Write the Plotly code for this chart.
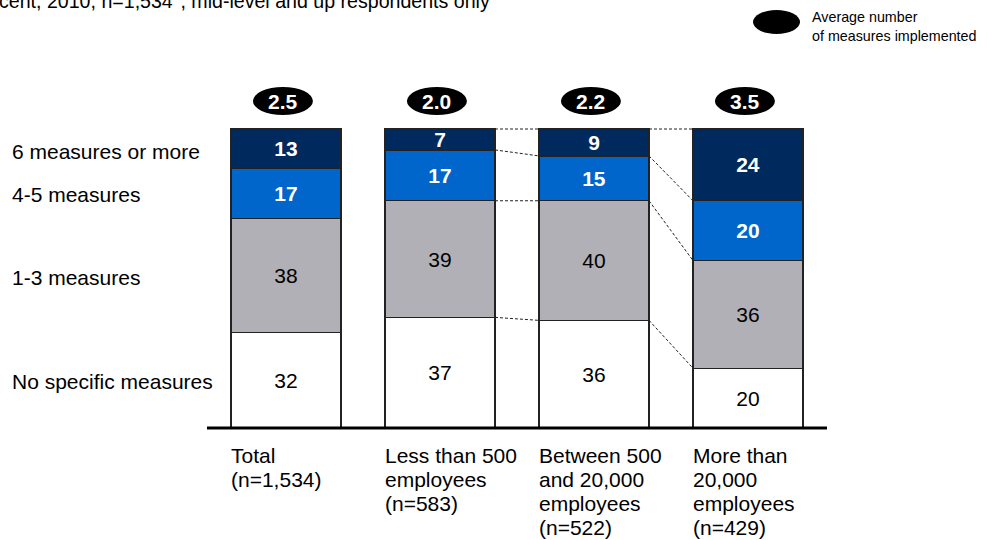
import plotly.graph_objects as go

category_lines = [["Total", "(n=1,534)"],
                  ["Less than 500", "employees", "(n=583)"],
                  ["Between 500", "and 20,000", "employees", "(n=522)"],
                  ["More than", "20,000", "employees", "(n=429)"]]
series_names = ["No specific measures", "1-3 measures", "4-5 measures", "6 measures or more"]
no_specific = [32, 37, 36, 20]
one_three = [38, 39, 40, 36]
four_five = [17, 17, 15, 20]
six_plus = [13, 7, 9, 24]
averages = ["2.5", "2.0", "2.2", "3.5"]

series_values = [no_specific, one_three, four_five, six_plus]
colors = ["#FFFFFF", "#B1B0B6", "#0066CC", "#002A5E"]
text_colors = ["#000000", "#000000", "#FFFFFF", "#FFFFFF"]
text_bold = [False, False, True, True]

FONT = "Liberation Sans, Arial, sans-serif"
W, H = 987, 540
px_per_unit = 2.99
base_px = 428
ymin = -(H - base_px) / px_per_unit
ymax = base_px / px_per_unit
spacing = 154.0
c0 = 286.0
xmin = -c0 / spacing
xmax = (W - c0) / spacing
bar_w = 110 / spacing

xs = list(range(len(category_lines)))
fig = go.Figure()
for vals, name, col, tc, b in zip(series_values, series_names, colors, text_colors, text_bold):
    fig.add_trace(go.Bar(
        x=xs, y=vals, name=name, width=bar_w,
        marker=dict(color=col, line=dict(color="#222222", width=1.3)),
        text=[f"<b>{v}</b>" if b else str(v) for v in vals],
        textposition="inside", insidetextanchor="middle", textangle=0,
        textfont=dict(color=tc, size=21, family=FONT),
        constraintext="none", showlegend=False, hoverinfo="skip",
    ))

fig.update_layout(
    barmode="stack", width=W, height=H,
    margin=dict(l=0, r=0, t=0, b=0),
    paper_bgcolor="white", plot_bgcolor="white",
    font=dict(family=FONT, size=21, color="#000000"),
    xaxis=dict(range=[xmin, xmax], visible=False, fixedrange=True),
    yaxis=dict(range=[ymin, ymax], visible=False, fixedrange=True),
)

# connector lines between bars 2-3 and 3-4
cums = []
for i in xs:
    c, acc = [], 0
    for s in series_values:
        acc += s[i]
        c.append(acc)
    cums.append(c)
for i in [1, 2]:
    for k in range(len(series_values)):
        fig.add_shape(type="line", x0=i + bar_w / 2, x1=i + 1 - bar_w / 2,
                      y0=cums[i][k], y1=cums[i + 1][k],
                      xref="x", yref="y", line=dict(color="#222222", width=1, dash="3px,2px"),
                      layer="below")

# baseline axis
fig.add_shape(type="line", x0=-0.513, x1=3.513, y0=0, y1=0, xref="x", yref="y",
              line=dict(color="#000000", width=3))

# ovals with averages
oval_c = (base_px - 101) / px_per_unit
oval_h = 28 / px_per_unit
oval_w = 60 / spacing
for i, a in zip(xs, averages):
    fig.add_shape(type="circle", x0=i - 0.02 - oval_w / 2, x1=i - 0.02 + oval_w / 2,
                  y0=oval_c - oval_h / 2, y1=oval_c + oval_h / 2,
                  xref="x", yref="y", fillcolor="#000000", line=dict(color="#000000", width=0))
    fig.add_annotation(x=i - 0.02, y=oval_c, text=f"<b>{a}</b>", showarrow=False,
                       font=dict(color="white", size=21), xref="x", yref="y")

# category labels (one annotation per line, 24px line pitch)
for i, lines in zip(xs, category_lines):
    for j, ln in enumerate(lines):
        py = 455 + 24 * j
        fig.add_annotation(x=i - bar_w / 2 - 2 / spacing, y=(base_px - py) / px_per_unit, text=ln,
                           showarrow=False, xanchor="left", yanchor="middle", align="left",
                           font=dict(size=21), xref="x", yref="y")

# row labels
label_px = [381, 277, 194, 151]
for name, py in zip(series_names, label_px):
    fig.add_annotation(x=10 / W, y=1 - py / H, xref="paper", yref="paper", text=name,
                       showarrow=False, xanchor="left", yanchor="middle", font=dict(size=21))

# legend oval
fig.add_shape(type="circle", xref="paper", yref="paper",
              x0=753 / W, x1=800 / W, y0=1 - 34 / H, y1=1 - 10 / H,
              fillcolor="#000000", line=dict(width=0))
fig.add_annotation(x=810 / W, y=1 - 26 / H, xref="paper", yref="paper",
                   text="Average number<br>of measures implemented", showarrow=False,
                   xanchor="left", yanchor="middle", align="left", font=dict(size=14.3))

# clipped subtitle at top
fig.add_annotation(x=-3 / W, y=1 - 14 / H, xref="paper", yref="paper",
                   text="cent, 2010, n=1,534<sup>1</sup>, mid-level and up respondents only",
                   showarrow=False, xanchor="left", yanchor="bottom", font=dict(size=19.6))

fig.write_html("out.html", config={"displayModeBar": False, "staticPlot": True},
               post_script="document.body.style.margin='0';document.body.style.overflow='hidden';")
